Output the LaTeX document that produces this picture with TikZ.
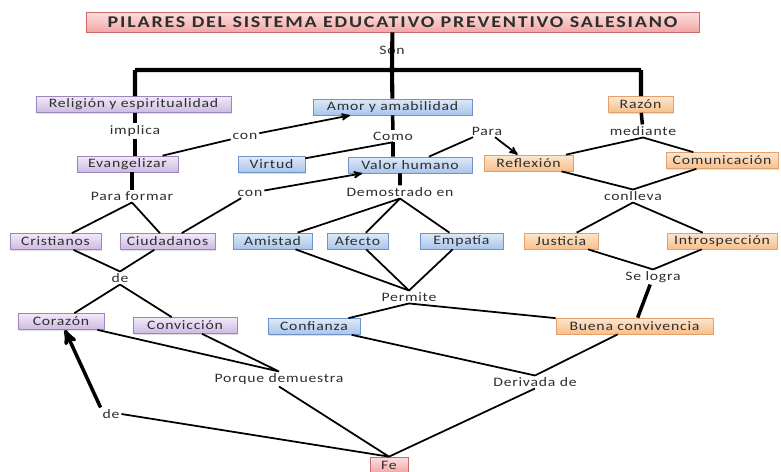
\documentclass[tikz,border=0pt]{standalone}
\usepackage{fontspec}
\setmainfont{Carlito}[LetterSpace=6,FakeStretch=1.22]
\usetikzlibrary{arrows,shadows}

\definecolor{lilaT}{HTML}{F1EAF8}
\definecolor{lilaD}{HTML}{CDB9E2}
\definecolor{lilaB}{HTML}{9C86BC}
\definecolor{azulT}{HTML}{DDE9F8}
\definecolor{azulD}{HTML}{A9C5EC}
\definecolor{azulB}{HTML}{6E93C9}
\definecolor{narT}{HTML}{FDE6CF}
\definecolor{narD}{HTML}{F7BF8C}
\definecolor{narB}{HTML}{E3A06A}
\definecolor{rosaT}{HTML}{FCE0E0}
\definecolor{rosaD}{HTML}{F4A5A5}
\definecolor{rosaB}{HTML}{C96B6B}
\definecolor{tinta}{HTML}{2E2E2E}

\begin{document}
\begin{tikzpicture}[x=0.03cm,y=-0.03cm,>=stealth',
  thin line/.style={draw=black,line width=1.5pt},
  thick line/.style={draw=black,line width=3pt},
  box/.style={rectangle,draw,line width=0.6pt,minimum height=0.48cm,
    inner sep=1pt,text=tinta,font=\fontsize{11}{13}\selectfont,
    drop shadow={opacity=0.25,shadow xshift=1pt,shadow yshift=-1pt}},
  lila node/.style={box,draw=lilaB,top color=lilaT,bottom color=lilaD},
  azul node/.style={box,draw=azulB,top color=azulT,bottom color=azulD},
  naranja node/.style={box,draw=narB,top color=narT,bottom color=narD},
  rosa node/.style={box,draw=rosaB,top color=rosaT,bottom color=rosaD},
  link/.style={inner sep=1.5pt,text=tinta,font=\fontsize{11}{13}\selectfont}]

  \useasboundingbox (0,0) rectangle (781,471);

  %Title and the three pillars%
  \node[rosa node,minimum width=18.39cm,minimum height=0.6cm,
    font=\fontsize{14}{16}\selectfont\bfseries\addfontfeature{LetterSpace=11}] (T) at (392.5,22)
    {PILARES DEL SISTEMA EDUCATIVO PREVENTIVO SALESIANO};
  \node[link] (Son) at (392,50) {Son};
  \coordinate (Bar) at (392,70);
  \coordinate (BarL) at (135,70);
  \coordinate (BarR) at (641,70);

  \node[lila node,minimum width=5.85cm] (Rel) at (133.5,104.5) {Religión y espiritualidad};
  \node[azul node,minimum width=4.77cm] (Amor) at (392.5,107) {Amor y amabilidad};
  \node[naranja node,minimum width=1.95cm] (Raz) at (640.5,104.5) {Razón};

  %Religion branch%
  \node[link] (Impl) at (135,131) {implica};
  \node[lila node,minimum width=3.03cm] (Evan) at (127.5,164) {Evangelizar};
  \node[link] (Form) at (132,196) {Para formar};
  \node[lila node,minimum width=2.73cm] (Cris) at (55.5,241.5) {Cristianos};
  \node[lila node,minimum width=2.85cm] (Ciud) at (167.5,241.5) {Ciudadanos};
  \node[link] (De) at (120,278) {de};
  \node[lila node,minimum width=2.58cm] (Cor) at (61,321.5) {Corazón};
  \node[lila node,minimum width=3.12cm] (Conv) at (185,325.5) {Convicción};
  \node[link] (Porq) at (279,379) {Porque demuestra};
  \node[link] (DeFe) at (111,414) {de};
  \node[rosa node,minimum width=1.14cm] (Fe) at (389,465) {Fe};
  \node[link] (ConA) at (245,136) {con};
  \node[link] (ConB) at (250,193) {con};

  %Love branch%
  \node[link] (Como) at (393,136) {Como};
  \node[azul node,minimum width=2.01cm] (Virt) at (271.5,164.5) {Virtud};
  \node[azul node,minimum width=3.72cm] (Valor) at (410,165) {Valor humano};
  \node[link] (Demo) at (400,192) {Demostrado en};
  \node[azul node,minimum width=2.37cm] (Amis) at (272.5,241) {Amistad};
  \node[azul node,minimum width=1.83cm] (Afec) at (357.5,241) {Afecto};
  \node[azul node,minimum width=2.49cm] (Empa) at (461.5,241) {Empatía};
  \node[link] (Perm) at (409,297) {Permite};
  \node[azul node,minimum width=2.76cm] (Conf) at (314,326.5) {Confianza};
  \node[link] (Deriv) at (535,382) {Derivada de};
  \node[link] (Para) at (487,131) {Para};

  %Reason branch%
  \node[link] (Med) at (643,131) {mediante};
  \node[naranja node,minimum width=2.67cm] (Refl) at (528.5,163) {Reflexión};
  \node[naranja node,minimum width=3.36cm] (Comu) at (722,160.5) {Comunicación};
  \node[link] (Conl) at (633,196) {conlleva};
  \node[naranja node,minimum width=2.22cm] (Just) at (561,241) {Justicia};
  \node[naranja node,minimum width=3.3cm] (Intr) at (722,241) {Introspección};
  \node[link] (Logr) at (653,277) {Se logra};
  \node[naranja node,minimum width=4.71cm] (Buen) at (634.5,326) {Buena convivencia};

  %Title down to the bar and the pillars%
  \path[thick line,line width=3.5pt] (T) -- (Bar) (BarL) -- (BarR)
    (BarL) -- (BarL |- Rel.north) (Bar) -- (Amor) (BarR) -- (BarR |- Raz.north);

  %Religion: implica, Para formar, de%
  \path[thick line] (Impl |- Rel.south) -- (Impl) (Impl) -- (Impl |- Evan.north)
    (Form |- Evan.south) -- (Form);
  \path[thin line] (Form.south) -- (Cris) (Form.south) -- (Ciud)
    (Cris) -- (De.north) (Ciud) -- (De.north)
    (De.south) -- (Cor) (De.south) -- (Conv)
    (Cor) -- (Porq.north) (Conv) -- (Porq.north)
    (Porq.south) -- (Fe.north) (Fe.north) -- (DeFe.east);
  \draw[thick line,->] (DeFe.north west) -- (Cor);

  %Links with con%
  \path[thin line] (Evan) -- (ConA) (Ciud) -- (ConB);
  \draw[thin line,->] (ConA) -- (Amor);
  \draw[thin line,->] (ConB) -- (Valor);

  %Love: Como, Demostrado en, Permite, Derivada de%
  \path[thick line] (Amor) -- (Como) (Como.south) -- (Como.south |- Valor.north)
    (Demo.north |- Valor.south) -- (Demo);
  \path[thin line] (Como.south) -- (Virt)
    (Demo.south) -- (Amis) (Demo.south) -- (Afec) (Demo.south) -- (Empa)
    (Amis) -- (Perm.north) (Afec) -- (Perm.north) (Empa) -- (Perm.north)
    (Perm.south) -- (Conf) (Perm.south) -- (Buen)
    (Conf) -- (Deriv.north) (Buen) -- (Deriv.north) (Deriv.south) -- (Fe.north)
    (Valor) -- (Para);
  \draw[thin line,->] (Para) -- (Refl);

  %Reason: mediante, conlleva, Se logra%
  \path[thick line] (Raz) -- (Med) (Logr) -- (Buen);
  \path[thin line] (Med.south) -- (Refl) (Med.south) -- (Comu)
    (Refl) -- (Conl.north) (Comu) -- (Conl.north)
    (Conl.south) -- (Just) (Conl.south) -- (Intr)
    (Just) -- (Logr.north) (Intr) -- (Logr.north);

\end{tikzpicture}
\end{document}
